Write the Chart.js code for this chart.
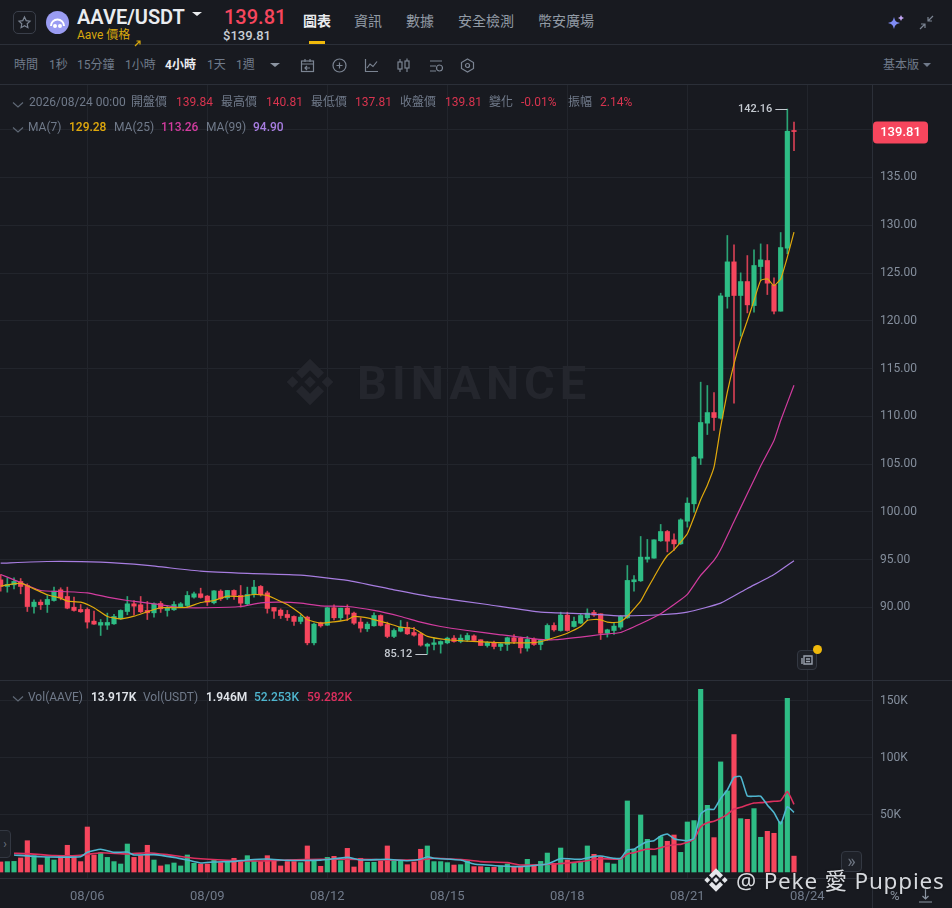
<!DOCTYPE html>
<html>
<head>
<meta charset="utf-8">
<script src="https://cdn.jsdelivr.net/npm/chart.js@4/dist/chart.umd.min.js"></script>
<style>
html,body{margin:0;padding:0;background:#181a20;overflow:hidden}
#page{position:relative;width:952px;height:908px;background:#181a20;overflow:hidden;font-family:Roboto,"Noto Sans CJK TC",sans-serif}
canvas{position:absolute;left:0}
.t{position:absolute;white-space:nowrap;transform:translateY(-50%);line-height:1}
.ln{position:absolute;background:#2b2f38}
.ic{position:absolute}
.btn{position:absolute;box-sizing:border-box;border:1px solid #333842;border-radius:4px;background:#1e2128;color:#6c7480;text-align:center}
</style>
</head>
<body>
<div id="page">
  <canvas id="grafPreco" width="952" height="595" style="top:85px"></canvas>
  <canvas id="grafVol" width="952" height="228" style="top:680px"></canvas>
</div>
<script>
// velas 4h
const candleOpen = [92.89,92.20,92.37,92.72,92.30,90.10,90.56,90.31,90.73,91.85,91.15,90.03,89.79,89.79,88.57,88.15,88.15,88.29,88.81,89.58,
90.38,90.28,89.69,89.44,90.42,89.69,89.76,90.03,90.21,91.08,91.43,91.19,90.49,91.71,91.01,91.78,91.26,90.38,91.36,92.20,
91.53,90.00,89.72,89.27,89.06,88.54,88.99,86.30,88.40,88.15,89.97,88.92,89.93,89.41,88.47,87.77,88.08,89.16,88.22,86.97,
87.52,87.91,87.38,87.24,85.95,86.13,86.16,86.30,86.79,86.44,86.62,87.03,86.62,86.02,86.34,85.92,86.13,86.83,86.79,85.74,
86.69,86.13,86.62,88.12,87.59,89.20,88.01,88.36,88.92,89.48,89.34,87.31,87.59,87.94,88.92,92.69,92.79,95.06,95.16,96.98,
97.95,97.08,96.66,99.03,100.85,105.63,109.29,110.40,109.81,122.54,126.17,122.65,124.11,121.60,125.68,126.31,123.76,121.01,127.60,139.84];
const candleClose = [92.20,92.41,92.72,92.20,90.10,90.56,90.28,90.84,91.71,91.01,89.93,89.69,89.55,88.47,88.26,88.43,88.43,89.06,89.69,90.38,
90.14,89.55,89.44,90.38,89.86,89.97,90.31,90.38,91.26,91.43,91.05,90.56,91.74,90.91,91.78,91.26,90.45,91.36,92.13,91.33,
89.90,89.62,89.16,88.95,88.54,88.99,86.30,88.26,88.08,89.97,88.92,89.93,89.30,88.36,87.84,88.26,89.16,88.12,86.97,87.59,
87.94,87.24,87.10,86.06,86.16,86.30,86.44,86.79,86.44,86.79,87.07,86.55,86.02,86.34,85.92,86.20,86.83,86.44,85.78,86.65,
86.13,86.55,88.12,87.66,89.20,87.59,88.54,89.16,89.41,89.20,87.31,87.66,88.05,89.06,92.83,92.90,95.27,95.27,97.08,97.95,
96.94,96.66,99.17,100.92,105.73,109.36,110.40,109.88,122.61,126.17,122.65,124.11,121.67,125.79,126.38,123.94,121.01,127.67,139.84,139.81];
const candleHigh = [93.45,93.10,93.10,93.03,92.48,90.80,90.80,91.26,92.13,92.06,92.13,91.08,90.31,89.97,89.62,88.74,89.41,89.27,89.76,91.15,
90.73,91.15,90.63,90.49,90.63,90.14,90.63,90.52,91.67,91.60,92.02,91.26,91.78,91.85,91.78,91.85,92.30,92.13,92.83,92.30,
91.71,90.00,89.86,89.69,89.13,89.23,89.09,88.36,88.47,90.03,90.28,89.93,90.28,89.51,88.92,88.47,89.44,89.23,88.47,87.77,
88.64,88.47,87.91,87.35,86.27,86.83,86.51,86.90,87.07,87.14,87.31,87.14,86.62,86.44,86.48,86.27,86.90,87.17,86.90,86.97,
86.83,86.62,88.29,88.40,89.51,89.51,88.99,89.34,89.86,89.69,89.34,87.73,88.36,89.16,94.39,93.35,97.43,97.12,97.08,98.69,
98.06,97.71,99.28,101.48,105.80,113.58,113.23,112.50,122.89,128.93,127.95,125.02,126.83,127.43,128.05,127.98,124.50,129.24,142.16,140.81];
const candleLow = [91.71,91.60,91.95,91.43,89.58,89.41,89.79,89.48,90.66,90.80,89.86,89.62,89.48,87.84,88.22,87.07,87.70,88.22,88.74,89.23,
89.23,89.44,88.74,88.99,89.48,89.09,89.69,89.97,90.03,90.98,90.98,90.21,90.38,90.73,90.84,90.84,90.03,90.21,91.08,91.19,
89.41,88.85,88.85,88.64,88.12,88.29,86.09,86.09,87.94,88.12,88.71,88.64,88.64,88.22,87.42,87.49,88.05,88.05,86.83,86.83,
87.45,87.17,87.00,85.95,85.12,85.57,85.22,86.20,86.37,86.30,86.44,86.44,86.02,85.85,85.67,85.50,85.50,86.20,85.22,85.43,
86.02,85.57,86.55,87.52,87.52,87.52,87.94,88.29,88.64,89.06,86.65,86.90,87.17,87.73,88.85,91.71,92.72,94.74,95.16,96.91,
95.82,95.96,96.59,98.41,99.98,104.96,108.10,108.52,109.71,121.32,111.38,118.39,120.83,120.90,124.22,122.75,120.73,121.01,127.01,137.81];

// volume em milhares
const volK = [8.8,9.1,9.3,12.3,27.4,14.3,6.1,12.8,10.5,14.0,23.4,13.4,9.1,39.4,14.9,16.9,12.8,9.1,7.0,24.5,
12.8,14.3,23.4,10.5,5.3,6.4,7.9,5.3,14.9,7.6,7.0,7.0,11.1,8.2,9.1,12.0,9.1,14.3,9.3,9.1,
14.3,10.5,5.3,9.1,9.1,8.2,22.8,9.9,5.0,12.8,13.7,9.9,20.7,4.4,12.0,8.5,8.5,9.6,22.8,9.9,
9.6,6.4,8.8,19.9,22.8,9.1,9.1,8.2,6.1,6.4,9.9,4.7,4.7,4.1,4.1,5.3,7.0,4.1,4.7,11.1,
6.1,9.3,16.6,7.6,21.0,10.5,7.9,8.5,22.8,15.5,13.4,7.9,7.0,12.0,62.2,20.0,49.9,28.6,14.3,31.0,
26.9,32.4,17.2,43.8,45.0,160.0,58.4,30.1,96.4,71.0,120.3,46.7,46.1,55.5,30.4,35.6,33.9,44.1,152.1,13.917];

// medias moveis do preco, so nos pontos lidos
const ma7Idx = [0,3,5,7,9,10,12,14,16,18,20,22,24,26,28,30,32,34,36,38,40,42,43,45,46,48,50,52,53,55,58,60,62,64,67,70,73,76,79,81,83,85,87,88,89,90,91,92,93,94,95,96,97,98,99,100,101,102,103,104,105,106,107,108,109,110,111,112,113,114,115,116,117,118,119];
const ma7Val = [92.23,92.55,91.95,91.33,90.98,90.66,90.56,89.97,89.06,88.81,89.09,89.55,89.97,89.97,90.03,90.52,90.73,91.19,91.15,91.36,91.26,90.63,90.31,89.34,88.71,88.36,88.50,88.71,89.06,88.92,88.36,87.94,87.77,86.97,86.62,86.48,86.37,86.30,86.30,86.41,86.83,87.31,88.00,88.64,88.74,88.71,88.47,88.43,88.54,89.06,89.86,90.66,91.95,93.17,94.39,95.44,96.03,96.84,97.71,99.45,101.27,102.80,104.68,108.87,112.53,115.50,118.01,120.03,122.12,124.22,124.39,123.69,124.39,126.66,129.28];
const ma25Idx = [0,2,4,6,9,13,16,19,23,27,31,36,39,42,45,48,52,56,60,63,66,70,75,80,83,87,90,93,96,99,102,103,105,107,108,110,112,114,116,117,119];
const ma25Val = [93.45,92.89,92.30,91.78,91.67,91.53,91.08,90.73,90.38,90.00,89.97,90.10,90.49,90.56,90.45,90.17,90.10,89.69,89.06,88.47,88.01,87.59,87.14,86.72,86.62,86.90,87.17,87.38,88.29,89.34,90.80,91.36,93.35,94.92,96.07,99.00,101.90,104.80,107.47,109.57,113.26];
const ma99Idx = [0,7,15,22,30,37,45,52,59,65,73,81,88,93,99,103,108,112,116,119];
const ma99Val = [94.64,94.81,94.74,94.40,93.80,93.56,93.38,92.83,91.85,91.08,90.31,89.51,89.34,89.13,89.24,89.51,90.45,91.99,93.45,94.90];

// medias do volume
const volAzulIdx = [2,6,12,13,15,17,19,20,23,26,28,30,32,35,37,40,43,48,52,54,58,61,63,64,65,69,71,75,78,82,84,87,89,90,92,93,94,95,96,97,98,99,100,101,102,103,104,105,106,107,108,109,110,111,112,113,114,115,116,117,118,119];
const volAzulVal = [14.9,13.4,13.4,17.2,19.9,17.2,17.5,14.9,15.2,12.8,10.5,7.9,8.8,9.3,10.5,11.4,10.2,10.4,12.8,10.5,11.1,9.9,11.1,13.4,12.0,10.5,7.0,5.3,4.7,7.0,11.7,11.1,13.7,14.0,12.0,12.0,19.3,19.9,23.7,26.6,27.4,31.5,33.3,29.2,28.0,27.4,29.5,50.8,54.9,54.9,64.5,71.8,82.9,83.5,66.6,66.3,66.3,58.7,52.0,42.0,57.2,52.253];
const volRosaIdx = [2,4,8,12,15,19,22,25,29,34,39,43,48,54,58,63,65,70,72,76,78,83,87,90,93,94,95,96,97,98,99,100,101,102,103,104,105,106,107,108,109,110,111,112,113,114,115,116,117,118,119];
const volRosaVal = [16.4,16.1,14.3,14.6,16.9,15.8,16.9,15.2,12.0,10.2,9.6,10.5,11.1,11.1,10.5,10.5,12.0,10.5,9.1,8.2,6.1,7.0,9.1,11.7,11.4,15.8,16.9,18.7,20.1,19.9,21.3,22.8,23.9,24.2,26.0,28.6,39.7,43.2,44.4,47.0,50.5,55.2,56.6,58.7,60.4,60.7,61.3,61.9,62.5,70.4,59.282];

const priceTicks = [90,95,100,105,110,115,120,125,130,135,140];
const volTicks = [50,100,150];
const dateIdx = [13,31,49,67,85,103,121];
const dateLabels = ["08/06","08/09","08/12","08/15","08/18","08/21","08/24"];

const VERDE = "#2ebd85", VERMELHO = "#f6465d", GRADE = "#22252c", CINZA = "#848e9c", DIM = "#707a8a";
const FONTE = 'Roboto, "Noto Sans CJK TC", sans-serif';
const XMIN = -0.1, XMAX = 130.7;

function corVela(i, alfa){
  const sobe = candleClose[i] >= candleOpen[i];
  if(alfa) return sobe ? "rgba(46,189,133," + alfa + ")" : "rgba(246,70,93," + alfa + ")";
  return sobe ? VERDE : VERMELHO;
}
function pontos(idx, val){ return idx.map((x, k) => ({x: x, y: val[k]})); }
function linha(idx, val, cor, larg){
  return {type:"line", data:pontos(idx, val), borderColor:cor, borderWidth:larg, pointRadius:0, tension:0.15, order:0};
}
function semPadding(s){ s.paddingTop = 0; s.paddingBottom = 0; s.paddingLeft = 0; s.paddingRight = 0; }
function escalaX(mostrar){
  return {
    type:"linear", min:XMIN, max:XMAX, offset:false,
    grid:{color:GRADE, offset:false, drawTicks:false},
    border:{display:mostrar, color:"#2b2f38"},
    afterBuildTicks: s => { s.ticks = dateIdx.map(v => ({value:v})); },
    afterFit: s => { s.height = mostrar ? 30 : 0; semPadding(s); },
    ticks:{display:mostrar, color:DIM, font:{size:13, family:FONTE}, padding:11, maxRotation:0, autoSkip:false,
      callback: v => dateLabels[dateIdx.indexOf(v)]}
  };
}

// marcas de maximo/minimo e etiqueta do ultimo preco
const marcasPreco = {
  id:"marcasPreco",
  afterDraw(chart){
    const c = chart.ctx, ex = chart.scales.x, ey = chart.scales.y;
    c.save();
    c.font = "500 11px " + FONTE;
    c.textBaseline = "middle";
    c.textAlign = "right";
    const marcas = [[118, candleHigh[118]], [64, 85.12]];
    marcas.forEach(m => {
      const px = ex.getPixelForValue(m[0]), py = ey.getPixelForValue(m[1]);
      c.fillStyle = "#c4c9d0";
      c.fillRect(px - 12, Math.round(py), 12, 1);
      c.fillText(m[1].toFixed(2), px - 15, py);
    });
    const ultimo = candleClose[119], py = ey.getPixelForValue(ultimo);
    c.fillStyle = VERMELHO;
    c.beginPath();
    c.roundRect(873, py - 10, 55, 22, 4);
    c.fill();
    c.fillStyle = "#fff";
    c.textAlign = "center";
    c.font = "500 13px " + FONTE;
    c.fillText(ultimo.toFixed(2), 900.5, py + 1.5);
    c.restore();
  }
};

new Chart(document.getElementById("grafPreco"), {
  type:"bar",
  data:{datasets:[
    linha(ma7Idx, ma7Val, "#e0a90c", 1.2),
    linha(ma25Idx, ma25Val, "#d23c9f", 1.2),
    linha(ma99Idx, ma99Val, "#a77de0", 1.2),
    {data:candleOpen.map((o, i) => ({x:i, y:[Math.min(o, candleClose[i]), Math.max(o, candleClose[i])]})),
      backgroundColor:candleOpen.map((o, i) => corVela(i)), barThickness:4.5, minBarLength:1, grouped:false, order:1},
    {data:candleOpen.map((o, i) => ({x:i, y:[candleLow[i], candleHigh[i]]})),
      backgroundColor:candleOpen.map((o, i) => corVela(i, 0.85)), barThickness:1, grouped:false, order:2}
  ]},
  options:{
    responsive:false, animation:false, events:[],
    layout:{padding:0},
    plugins:{legend:{display:false}, tooltip:{enabled:false}},
    scales:{
      x:escalaX(false),
      y:{
        position:"right", min:82.41, max:144.68,
        grid:{color:GRADE, drawTicks:false},
        border:{display:false},
        afterBuildTicks: s => { s.ticks = priceTicks.map(v => ({value:v})); },
        afterFit: s => { s.width = 80; semPadding(s); },
        ticks:{color:CINZA, padding:8, font:{size:12, family:FONTE},
          callback: v => v >= 140 ? "" : v.toFixed(2)}
      }
    }
  },
  plugins:[marcasPreco]
});

new Chart(document.getElementById("grafVol"), {
  type:"bar",
  data:{datasets:[
    linha(volAzulIdx, volAzulVal, "#4fb6cf", 1.6),
    linha(volRosaIdx, volRosaVal, "#dc2f5e", 1.6),
    {data:volK.map((v, i) => ({x:i, y:v})), backgroundColor:volK.map((v, i) => corVela(i)), barThickness:4.5, grouped:false, order:1}
  ]},
  options:{
    responsive:false, animation:false, events:[],
    layout:{padding:0},
    plugins:{legend:{display:false}, tooltip:{enabled:false}},
    scales:{
      x:escalaX(true),
      y:{
        position:"right", min:-5.25, max:168.1,
        grid:{color:GRADE, drawTicks:false},
        border:{display:false},
        afterBuildTicks: s => { s.ticks = volTicks.map(v => ({value:v})); },
        afterFit: s => { s.width = 80; semPadding(s); },
        ticks:{color:CINZA, padding:8, font:{size:12, family:FONTE}, callback: v => v + "K"}
      }
    }
  }
});

// textos da tela: [texto, x, y, cor, tamanho, peso]
const textos = [
  ["AAVE/USDT",77,17,"#eaecef",20,600],["139.81",224,17,VERMELHO,20,500],["$139.81",223,35,"#c9ced6",13,500],["Aave 價格",77,35,"#d9a80c",12,400],
  ["圖表",303,21,"#eaecef",14,600],["資訊",354,21,"#929aa5",14,400],["數據",406,21,"#929aa5",14,400],["安全檢測",458,21,"#929aa5",14,400],["幣安廣場",538,21,"#929aa5",14,400],
  ["時間",14,65,DIM,12,400],["1秒",49,65,DIM,12,400],["15分鐘",77,65,DIM,12,400],["1小時",125,65,DIM,12,400],["4小時",165,65,"#eaecef",12,700],["1天",207,65,DIM,12,400],["1週",236,65,DIM,12,400],["基本版",883,65,DIM,12,400],
  ["2026/08/24 00:00",29,102,DIM,12,400],["開盤價",131,102,DIM,12,400],["139.84",176,102,"#d8344f",12,400],["最高價",221,102,DIM,12,400],["140.81",266,102,"#d8344f",12,400],["最低價",311,102,DIM,12,400],["137.81",355,102,"#d8344f",12,400],["收盤價",400,102,DIM,12,400],["139.81",445,102,"#d8344f",12,400],["變化",489,102,DIM,12,400],["-0.01%",521,102,"#d8344f",12,400],["振幅",568,102,DIM,12,400],["2.14%",600,102,"#d8344f",12,400],
  ["MA(7)",28,127,DIM,12,400],["129.28",69,127,"#e0a90c",12,500],["MA(25)",114,127,DIM,12,400],["113.26",161,127,"#d23c9f",12,500],["MA(99)",206,127,DIM,12,400],["94.90",253,127,"#a77de0",12,500],
  ["Vol(AAVE)",28,697,DIM,12,400],["13.917K",91,697,"#dfe3e8",12,600],["Vol(USDT)",143,697,DIM,12,400],["1.946M",206,697,"#dfe3e8",12,600],["52.253K",254,697,"#4fb6cf",12,500],["59.282K",307,697,"#dc2f5e",12,500],
  ["%",890,895,"#8c95a2",13,400]
];
const pagina = document.getElementById("page");
textos.forEach(t => {
  const s = document.createElement("span");
  s.className = "t";
  s.textContent = t[0];
  s.style.cssText = "left:" + t[1] + "px;top:" + t[2] + "px;color:" + t[3] + ";font-size:" + t[4] + "px;font-weight:" + t[5];
  pagina.appendChild(s);
});

function bloco(css, html, classe){
  const d = document.createElement("div");
  d.className = classe || "ln";
  d.style.cssText = css;
  if(html) d.innerHTML = html;
  pagina.appendChild(d);
  return d;
}
function svg(x, y, w, h, corpo){
  bloco("left:" + x + "px;top:" + y + "px;width:" + w + "px;height:" + h + "px",
    '<svg width="' + w + '" height="' + h + '" viewBox="0 0 ' + w + " " + h + '" fill="none" stroke="#7b8492" stroke-width="1.2">' + corpo + "</svg>", "ic");
}
function logo(x, y, tam, cor){
  bloco("left:" + x + "px;top:" + y + "px;width:" + tam + "px;height:" + tam + "px",
    '<svg width="' + tam + '" height="' + tam + '" viewBox="0 0 24 24" fill="' + cor + '"><path d="M12 2L18 8L15.5 10.5L12 7L8.5 10.5L6 8ZM12 22L18 16L15.5 13.5L12 17L8.5 13.5L6 16ZM2 12L4.5 9.5L7 12L4.5 14.5ZM22 12L19.5 9.5L17 12L19.5 14.5ZM12 9.5L14.5 12L12 14.5L9.5 12Z"/></svg>', "ic");
}
function triangulo(x, y, w, cor){
  bloco("left:" + x + "px;top:" + y + "px;width:0;height:0;border-left:" + w + "px solid transparent;border-right:" + w + "px solid transparent;border-top:" + (w - 0.5) + "px solid " + cor, "", "ic");
}

// linhas de divisao
bloco("left:0;top:44px;width:952px;height:1px");
bloco("left:0;top:84px;width:952px;height:1px");
bloco("left:0;top:680px;width:952px;height:1px");
bloco("left:872px;top:85px;width:1px;height:823px");
bloco("left:309px;top:41px;width:16px;height:3px;background:#f0b90b");

// cabecalho
bloco("left:13px;top:11px;width:23px;height:23px;border:1px solid #3a3f4a;border-radius:5px;box-sizing:border-box", "", "ic");
svg(17, 15, 15, 15, '<path d="M7.5 2L9.2 5.6L13 6.1L10.2 8.8L10.9 12.7L7.5 10.8L4.1 12.7L4.8 8.8L2 6.1L5.8 5.6Z"/>');
bloco("left:46px;top:11px;width:23px;height:23px;border-radius:50%;background:#9a9cf2", '<svg width="23" height="23" viewBox="0 0 23 23" fill="none" stroke="#fff" stroke-width="2"><path d="M5 15a6.5 6.5 0 0 1 13 0"/><circle cx="9" cy="15" r="1" fill="#fff"/><circle cx="14" cy="15" r="1" fill="#fff"/></svg>', "ic");
triangulo(192, 12, 5, "#eaecef");
svg(134, 32, 7, 7, '<path d="M1 6L6 1M2.5 1H6V4.5" stroke="#d9a80c"/>');
triangulo(270, 63, 5, "#8c95a2");
triangulo(923, 63, 4.5, DIM);
svg(887, 14, 18, 18, '<path d="M7 3C8 7 9 8 13 9C9 10 8 11 7 15C6 11 5 10 1 9C5 8 6 7 7 3Z" fill="#7f8cf5" stroke="none"/><path d="M14 1L15 3L17 4L15 5L14 7L13 5L11 4L13 3Z" fill="#c3a6f5" stroke="none"/>');
svg(919, 15, 15, 15, '<path d="M1 14L6 9M2 9H6V13M14 1L9 6M9 2V6H13"/>');

// icones da barra de ferramentas
svg(300, 58, 15, 15, '<rect x="1.5" y="3" width="12" height="10.5"/><path d="M1.5 6H13.5M5 1V4M10 1V4M10 10H5M7 8L5 10L7 12"/>');
svg(332, 58, 15, 15, '<circle cx="7.5" cy="7.5" r="6.5"/><path d="M7.5 4.5V10.5M4.5 7.5H10.5"/>');
svg(364, 58, 15, 15, '<path d="M1.5 1V13.5H14M3 10L6 6L9 8.5L13 3.5"/>');
svg(396, 58, 15, 15, '<rect x="2" y="4" width="4" height="7"/><rect x="9" y="3" width="4" height="7"/><path d="M4 1V4M4 11V14M11 0.5V3M11 10V14"/>');
svg(428, 58, 15, 15, '<path d="M2 3H14M2 8H8M2 13H8"/><circle cx="11.5" cy="10" r="3"/>');
svg(460, 58, 15, 15, '<path d="M7.5 1L13.5 4.5V10.5L7.5 14L1.5 10.5V4.5Z"/><circle cx="7.5" cy="7.5" r="2"/>');
svg(12, 96, 12, 12, '<path d="M1 3.5L6 8L11 3.5" stroke="#5f6875"/>');
svg(12, 121, 12, 12, '<path d="M1 3.5L6 8L11 3.5" stroke="#5f6875"/>');
svg(12, 690, 12, 12, '<path d="M1 3.5L6 8L11 3.5" stroke="#5f6875"/>');

// marca dagua central
logo(282, 354, 56, "#24262d");
const wm = document.createElement("span");
wm.className = "t";
wm.textContent = "BINANCE";
wm.style.cssText = "left:357px;top:382px;color:#24262d;font-size:47px;font-weight:700;letter-spacing:5px";
pagina.appendChild(wm);

// botoes pequenos
bloco("left:797px;top:650px;width:20px;height:20px", '<svg width="18" height="18" viewBox="0 0 18 18" fill="none" stroke="#9aa2ae" stroke-width="1.4"><path d="M6 5H14V13H6ZM8 8H12M8 10.5H12M4 7V13"/></svg>', "btn");
bloco("left:813px;top:645px;width:9px;height:9px;border-radius:50%;background:#f0b90b", "", "ic");
bloco("left:841px;top:851px;width:21px;height:21px;line-height:17px;font-size:18px", "»", "btn");
bloco("left:-6px;top:830px;width:17px;height:28px;line-height:26px;font-size:12px;padding-left:5px", "›", "btn");
svg(918, 888, 15, 15, '<path d="M7.5 1V11M4.5 8L7.5 11L10.5 8M1 14H14" stroke="#8c95a2"/>');

// assinatura
logo(702, 866, 28, "#e4e6ea");
const ass = document.createElement("span");
ass.className = "t";
ass.textContent = "@ Peke 愛 Puppies";
ass.style.cssText = "left:736px;top:881px;color:#d6d9de;font-size:22.5px;letter-spacing:0.8px;font-family:'Noto Sans','Noto Sans CJK TC',sans-serif;text-shadow:0 0 2px #111";
pagina.appendChild(ass);
</script>
</body>
</html>
